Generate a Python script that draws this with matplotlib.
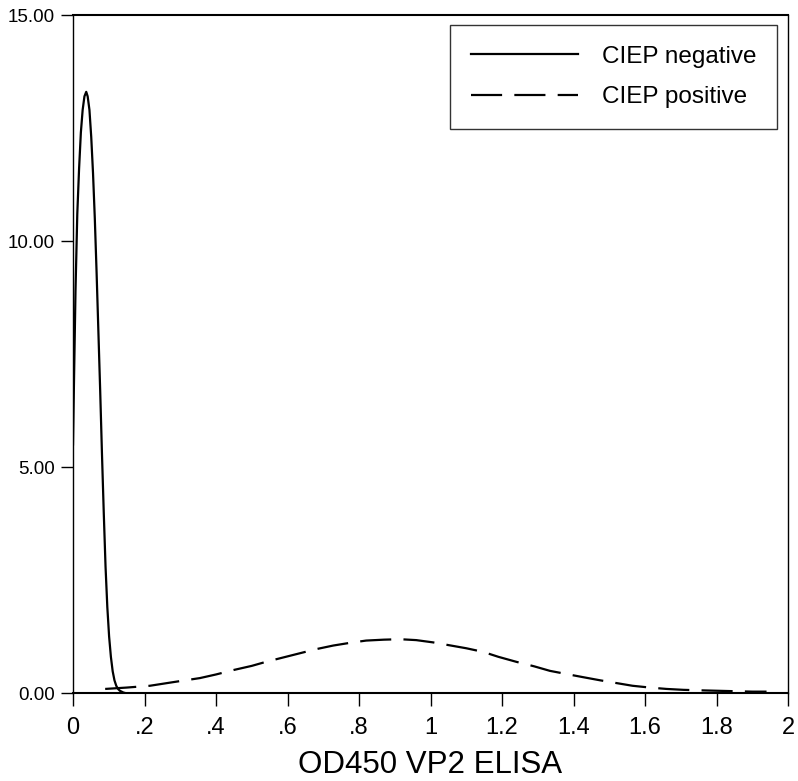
import matplotlib
matplotlib.use("Agg")
import matplotlib.pyplot as plt

plt.rcParams['font.family'] = ['Liberation Sans', 'DejaVu Sans']

# CIEP negative density
neg_x = [0.000, 0.003, 0.007, 0.012, 0.017, 0.022, 0.027, 0.032, 0.037, 0.041,
         0.046, 0.051, 0.056, 0.061, 0.066, 0.071, 0.076, 0.081, 0.086, 0.091,
         0.096, 0.101, 0.106, 0.111, 0.116, 0.121, 0.126, 0.131, 0.136, 0.141, 0.146]
neg_y = [5.5, 7.0, 8.9, 10.6, 11.6, 12.4, 12.9, 13.2, 13.3, 13.2,
         12.9, 12.3, 11.5, 10.5, 9.3, 8.0, 6.7, 5.3, 4.0, 2.8,
         1.9, 1.25, 0.8, 0.48, 0.28, 0.16, 0.09, 0.05, 0.03, 0.01, 0.0]

# CIEP positive density
pos_x = [0.09, 0.15, 0.215, 0.28, 0.355, 0.40, 0.45, 0.50, 0.54, 0.59, 0.635, 0.68,
         0.728, 0.775, 0.82, 0.87, 0.915, 0.96, 1.007, 1.05, 1.10, 1.147, 1.19, 1.24,
         1.29, 1.334, 1.38, 1.427, 1.475, 1.52, 1.565, 1.614, 1.66, 1.707, 1.75, 1.8,
         1.85, 1.9, 1.94]
pos_y = [0.09, 0.12, 0.16, 0.24, 0.33, 0.41, 0.51, 0.60, 0.69, 0.79, 0.88, 0.97,
         1.05, 1.11, 1.16, 1.18, 1.19, 1.17, 1.12, 1.06, 0.99, 0.91, 0.80, 0.69,
         0.59, 0.49, 0.42, 0.35, 0.28, 0.22, 0.16, 0.12, 0.09, 0.07, 0.06, 0.05,
         0.04, 0.03, 0.03]

x_ticks = [0, 0.2, 0.4, 0.6, 0.8, 1.0, 1.2, 1.4, 1.6, 1.8, 2.0]
x_tick_labels = ["0", ".2", ".4", ".6", ".8", "1", "1.2", "1.4", "1.6", "1.8", "2"]
y_ticks = [0, 5, 10, 15]
y_tick_labels = ["0.00", "5.00", "10.00", "15.00"]

fig = plt.figure(figsize=(7.98, 7.81), dpi=100)
ax = fig.add_axes([73/798, 1-693/781, 715/798, 678/781])

ax.plot(neg_x, neg_y, color='black', lw=1.6, label='CIEP negative')
ax.plot(pos_x, pos_y, color='black', lw=1.6, linestyle=(0, (14, 5.5)), label='CIEP positive')

ax.set_xlim(0, 2)
ax.set_ylim(0, 15)
ax.set_xticks(x_ticks)
ax.set_xticklabels(x_tick_labels, fontsize=17)
ax.set_yticks(y_ticks)
ax.set_yticklabels(y_tick_labels, fontsize=13.5)
ax.tick_params(direction='out', length=9, width=1, pad=4)
ax.tick_params(axis='x', pad=8)
ax.set_xlabel('OD450 VP2 ELISA', fontsize=22.5, labelpad=8)

ax.spines['bottom'].set_linewidth(1.5)
ax.spines['top'].set_linewidth(1.5)
ax.spines['left'].set_linewidth(1.0)
ax.spines['right'].set_linewidth(1.0)

leg = ax.legend(loc='upper right', bbox_to_anchor=(0.985, 0.985), borderaxespad=0,
                fontsize=17.5, frameon=True, fancybox=False, handlelength=4.4,
                handletextpad=1.0, labelspacing=0.75, borderpad=0.85)
leg.get_frame().set_edgecolor('black')
leg.get_frame().set_linewidth(1.0)

fig.savefig('out.png', dpi=100)
